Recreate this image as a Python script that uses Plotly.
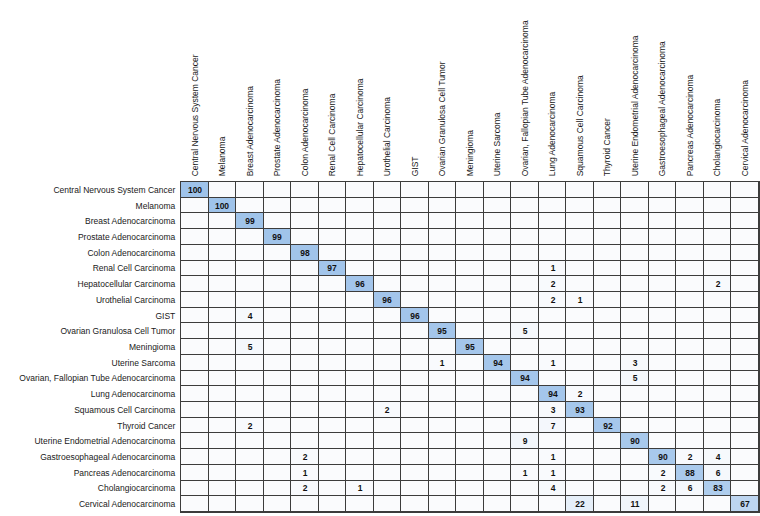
import plotly.graph_objects as go

classes = [
    "Central Nervous System Cancer", "Melanoma", "Breast Adenocarcinoma",
    "Prostate Adenocarcinoma", "Colon Adenocarcinoma", "Renal Cell Carcinoma",
    "Hepatocellular Carcinoma", "Urothelial Carcinoma", "GIST",
    "Ovarian Granulosa Cell Tumor", "Meningioma", "Uterine Sarcoma",
    "Ovarian, Fallopian Tube Adenocarcinoma", "Lung Adenocarcinoma",
    "Squamous Cell Carcinoma", "Thyroid Cancer", "Uterine Endometrial Adenocarcinoma",
    "Gastroesophageal Adenocarcinoma", "Pancreas Adenocarcinoma",
    "Cholangiocarcinoma", "Cervical Adenocarcinoma",
]

# rows = true class, columns = predicted class (percent)
values = [
    [100, 0, 0, 0, 0, 0, 0, 0, 0, 0, 0, 0, 0, 0, 0, 0, 0, 0, 0, 0, 0],
    [0, 100, 0, 0, 0, 0, 0, 0, 0, 0, 0, 0, 0, 0, 0, 0, 0, 0, 0, 0, 0],
    [0, 0, 99, 0, 0, 0, 0, 0, 0, 0, 0, 0, 0, 0, 0, 0, 0, 0, 0, 0, 0],
    [0, 0, 0, 99, 0, 0, 0, 0, 0, 0, 0, 0, 0, 0, 0, 0, 0, 0, 0, 0, 0],
    [0, 0, 0, 0, 98, 0, 0, 0, 0, 0, 0, 0, 0, 0, 0, 0, 0, 0, 0, 0, 0],
    [0, 0, 0, 0, 0, 97, 0, 0, 0, 0, 0, 0, 0, 1, 0, 0, 0, 0, 0, 0, 0],
    [0, 0, 0, 0, 0, 0, 96, 0, 0, 0, 0, 0, 0, 2, 0, 0, 0, 0, 0, 2, 0],
    [0, 0, 0, 0, 0, 0, 0, 96, 0, 0, 0, 0, 0, 2, 1, 0, 0, 0, 0, 0, 0],
    [0, 0, 4, 0, 0, 0, 0, 0, 96, 0, 0, 0, 0, 0, 0, 0, 0, 0, 0, 0, 0],
    [0, 0, 0, 0, 0, 0, 0, 0, 0, 95, 0, 0, 5, 0, 0, 0, 0, 0, 0, 0, 0],
    [0, 0, 5, 0, 0, 0, 0, 0, 0, 0, 95, 0, 0, 0, 0, 0, 0, 0, 0, 0, 0],
    [0, 0, 0, 0, 0, 0, 0, 0, 0, 1, 0, 94, 0, 1, 0, 0, 3, 0, 0, 0, 0],
    [0, 0, 0, 0, 0, 0, 0, 0, 0, 0, 0, 0, 94, 0, 0, 0, 5, 0, 0, 0, 0],
    [0, 0, 0, 0, 0, 0, 0, 0, 0, 0, 0, 0, 0, 94, 2, 0, 0, 0, 0, 0, 0],
    [0, 0, 0, 0, 0, 0, 0, 2, 0, 0, 0, 0, 0, 3, 93, 0, 0, 0, 0, 0, 0],
    [0, 0, 2, 0, 0, 0, 0, 0, 0, 0, 0, 0, 0, 7, 0, 92, 0, 0, 0, 0, 0],
    [0, 0, 0, 0, 0, 0, 0, 0, 0, 0, 0, 0, 9, 0, 0, 0, 90, 0, 0, 0, 0],
    [0, 0, 0, 0, 2, 0, 0, 0, 0, 0, 0, 0, 0, 1, 0, 0, 0, 90, 2, 4, 0],
    [0, 0, 0, 0, 1, 0, 0, 0, 0, 0, 0, 0, 1, 1, 0, 0, 0, 2, 88, 6, 0],
    [0, 0, 0, 0, 2, 0, 1, 0, 0, 0, 0, 0, 0, 4, 0, 0, 0, 2, 6, 83, 0],
    [0, 0, 0, 0, 0, 0, 0, 0, 0, 0, 0, 0, 0, 0, 22, 0, 11, 0, 0, 0, 67],
]

labels = [[str(v) if v else "" for v in row] for row in values]

FONT = "Liberation Sans, Arial, Helvetica, sans-serif"

fig = go.Figure(
    go.Heatmap(
        z=values,
        x=classes,
        y=classes,
        text=labels,
        texttemplate="<b>%{text}</b>",
        textfont=dict(family=FONT, size=8.5, color="#111111"),
        colorscale=[[0, "#fafbfd"], [1, "#9fc3ea"]],
        zmin=0,
        zmax=100,
        xgap=1,
        ygap=1,
        showscale=False,
        hoverongaps=False,
    )
)

fig.update_layout(
    width=760,
    height=516,
    margin=dict(l=181, r=1, t=182, b=4),
    paper_bgcolor="white",
    plot_bgcolor="#3c3c3c",
    font=dict(family=FONT, size=8.5, color="#1a1a1a"),
)
fig.update_xaxes(
    side="top",
    tickangle=-90,
    showgrid=False,
    zeroline=False,
    ticks="",
    ticklabelstandoff=3,
    tickfont=dict(size=8.5),
    showline=True,
    linecolor="#3c3c3c",
    linewidth=1,
    mirror=True,
)
fig.update_yaxes(
    autorange="reversed",
    showgrid=False,
    zeroline=False,
    ticks="",
    ticklabelstandoff=3,
    tickfont=dict(size=8.5),
    showline=True,
    linecolor="#3c3c3c",
    linewidth=1,
    mirror=True,
)

fig.write_html(
    "out.html",
    config={"displayModeBar": False},
    post_script="document.body.style.margin='0';document.body.style.overflow='hidden';",
)
